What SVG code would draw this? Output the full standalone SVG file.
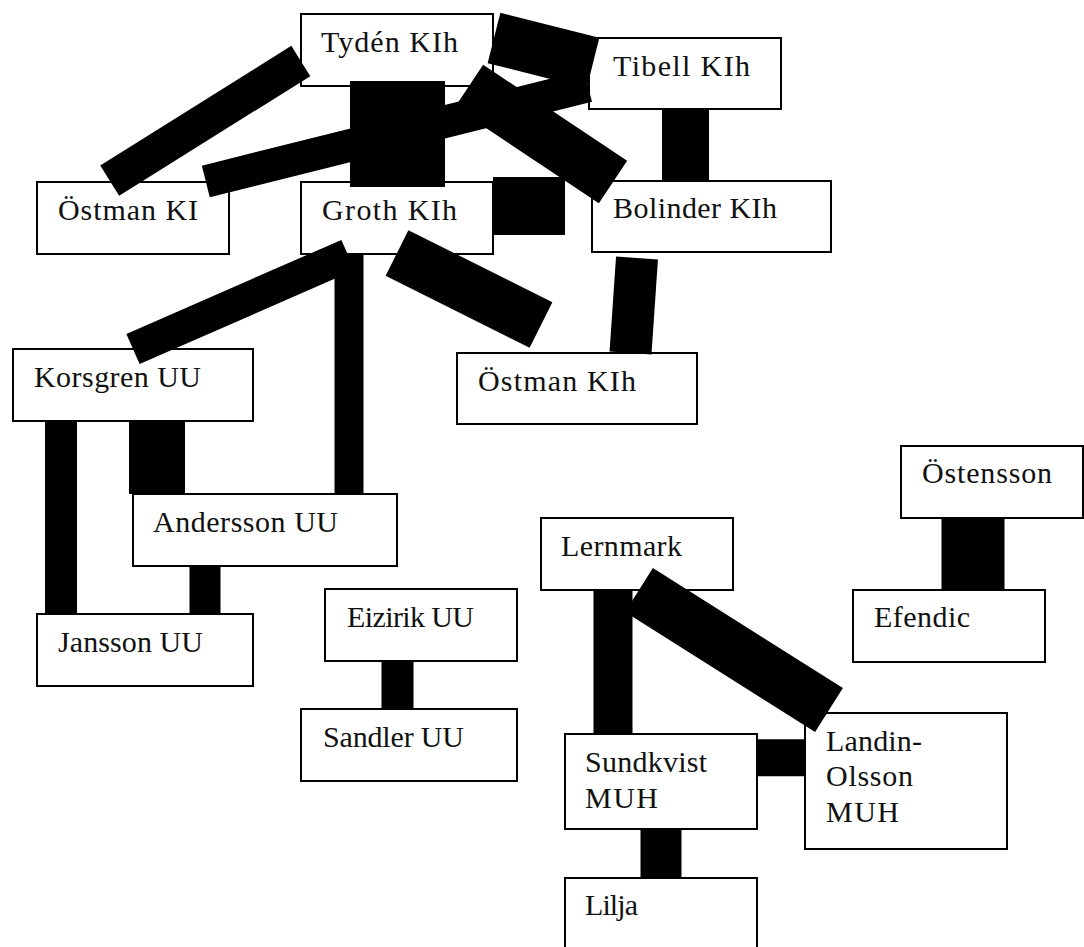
<svg xmlns="http://www.w3.org/2000/svg" width="1084" height="947" viewBox="0 0 1084 947">
<style>
.n rect{fill:#fff;stroke:#000;stroke-width:2}
.n text{font-family:"Liberation Serif","Times New Roman",serif;font-size:30px;fill:#111}
#connectors line{stroke:#000;stroke-linecap:butt;fill:none}
</style>
<rect width="1084" height="947" fill="#fff"/>
<g id="tyden" class="n"><rect x="301" y="14" width="192" height="72"/><text x="321" y="52" textLength="137" lengthAdjust="spacing">Tydén KIh</text></g>
<g id="tibell" class="n"><rect x="589" y="38" width="192" height="71"/><text x="613" y="76" textLength="137" lengthAdjust="spacing">Tibell KIh</text></g>
<g id="ostman-ki" class="n"><rect x="37" y="182" width="192" height="72"/><text x="58" y="220" textLength="140" lengthAdjust="spacing">Östman KI</text></g>
<g id="groth" class="n"><rect x="301" y="182" width="192" height="72"/><text x="322" y="220" textLength="135" lengthAdjust="spacing">Groth KIh</text></g>
<g id="bolinder" class="n"><rect x="592" y="181" width="239" height="71"/><text x="613" y="218" textLength="164" lengthAdjust="spacing">Bolinder KIh</text></g>
<g id="korsgren" class="n"><rect x="13" y="349" width="240" height="72"/><text x="34" y="387" textLength="167" lengthAdjust="spacing">Korsgren UU</text></g>
<g id="ostman-kih" class="n"><rect x="457" y="353" width="240" height="71"/><text x="478" y="391" textLength="158" lengthAdjust="spacing">Östman KIh</text></g>
<g id="andersson" class="n"><rect x="133" y="494" width="264" height="72"/><text x="153" y="532" textLength="185" lengthAdjust="spacing">Andersson UU</text></g>
<g id="jansson" class="n"><rect x="37" y="614" width="216" height="72"/><text x="58" y="652" textLength="145" lengthAdjust="spacing">Jansson UU</text></g>
<g id="eizirik" class="n"><rect x="325" y="589" width="192" height="72"/><text x="347" y="627" textLength="127" lengthAdjust="spacing">Eizirik UU</text></g>
<g id="sandler" class="n"><rect x="301" y="709" width="216" height="72"/><text x="323" y="747" textLength="141" lengthAdjust="spacing">Sandler UU</text></g>
<g id="ostensson" class="n"><rect x="901" y="446" width="182" height="72"/><text x="922" y="483" textLength="130" lengthAdjust="spacing">Östensson</text></g>
<g id="lernmark" class="n"><rect x="541" y="518" width="192" height="72"/><text x="561" y="556" textLength="121" lengthAdjust="spacing">Lernmark</text></g>
<g id="efendic" class="n"><rect x="853" y="590" width="192" height="72"/><text x="874" y="627" textLength="96" lengthAdjust="spacing">Efendic</text></g>
<g id="sundkvist" class="n"><rect x="565" y="734" width="192" height="95"/><text x="585" y="772" textLength="122" lengthAdjust="spacing">Sundkvist</text><text x="585" y="808" textLength="73" lengthAdjust="spacing">MUH</text></g>
<g id="landin" class="n"><rect x="805" y="713" width="202" height="136"/><text x="826" y="751" textLength="96" lengthAdjust="spacing">Landin-</text><text x="826" y="786" textLength="87" lengthAdjust="spacing">Olsson</text><text x="826" y="822" textLength="73" lengthAdjust="spacing">MUH</text></g>
<g id="lilja" class="n"><rect x="565" y="878" width="192" height="80"/><text x="585" y="915" textLength="53" lengthAdjust="spacing">Lilja</text></g>
<g id="connectors">
<line x1="109.7" y1="180.7" x2="300.8" y2="61" stroke-width="35.7"/>
<line x1="205.8" y1="181.5" x2="588" y2="86" stroke-width="32.7"/>
<line x1="494" y1="38" x2="593" y2="63" stroke-width="52"/>
<line x1="397.5" y1="81" x2="397.5" y2="187" stroke-width="95"/>
<line x1="469" y1="86" x2="613" y2="182" stroke-width="51"/>
<line x1="493" y1="206" x2="565" y2="206" stroke-width="58"/>
<line x1="685.5" y1="109" x2="685.5" y2="182" stroke-width="47"/>
<line x1="637" y1="258" x2="630.5" y2="353" stroke-width="42"/>
<line x1="397" y1="253" x2="541" y2="325" stroke-width="51"/>
<line x1="133" y1="349" x2="348" y2="255" stroke-width="33"/>
<line x1="349" y1="254" x2="349" y2="494" stroke-width="29"/>
<line x1="61" y1="421" x2="61" y2="614" stroke-width="32"/>
<line x1="157" y1="421" x2="157" y2="494" stroke-width="56"/>
<line x1="205" y1="566" x2="205" y2="614" stroke-width="31"/>
<line x1="397.5" y1="661" x2="397.5" y2="709" stroke-width="32"/>
<line x1="973" y1="518" x2="973" y2="590" stroke-width="63"/>
<line x1="613" y1="590" x2="613" y2="734" stroke-width="39"/>
<line x1="639" y1="590" x2="829" y2="710" stroke-width="52"/>
<line x1="757" y1="757.7" x2="805" y2="757.7" stroke-width="37"/>
<line x1="661" y1="829" x2="661" y2="878" stroke-width="41"/>
</g>
</svg>
